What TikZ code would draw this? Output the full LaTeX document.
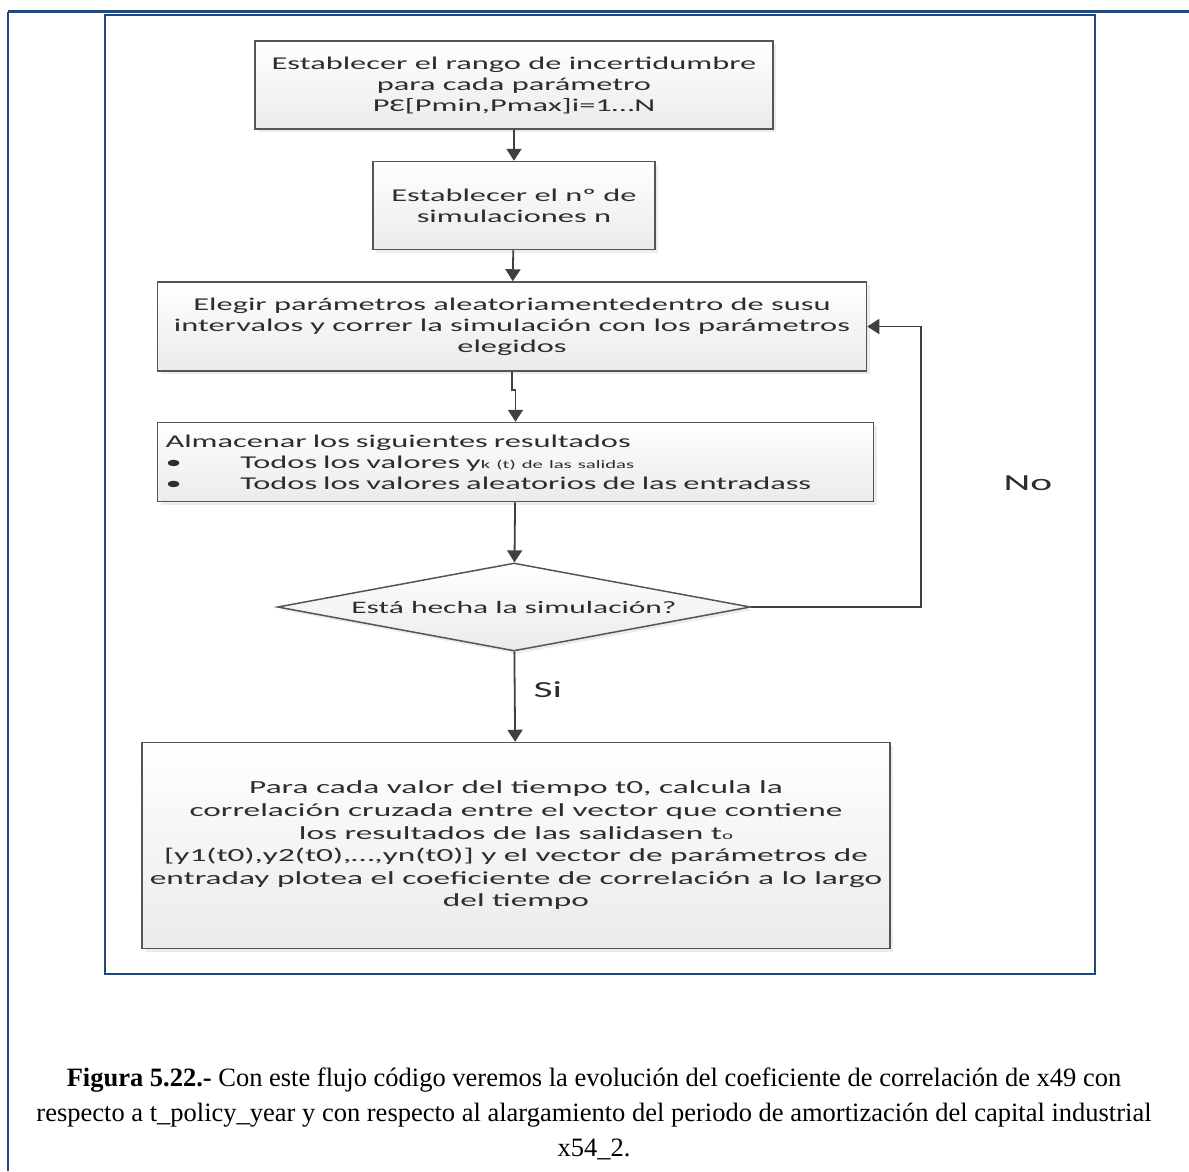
\documentclass[tikz,border=0pt]{standalone}
\usepackage{fontspec}
\setmainfont{Liberation Serif}
\newfontfamily\flowfont[FakeStretch=1.8]{Carlito}
\usepackage{tikz}
\usetikzlibrary{positioning,shapes.geometric,arrows.meta,shadows}
\definecolor{frameblue}{RGB}{31,73,125}
\definecolor{boxline}{RGB}{85,85,85}
\definecolor{flowline}{RGB}{64,64,64}
\definecolor{boxtext}{RGB}{45,45,45}
\tikzset{
  flowbox/.style={draw=boxline,line width=1.5pt,top color=white,bottom color=black!8,
    drop shadow={shadow xshift=3pt,shadow yshift=-3pt,opacity=0.15},
    align=center,inner sep=4pt,text=boxtext,font=\flowfont\fontsize{18}{21}\selectfont},
  decision/.style={flowbox,diamond,shape aspect=5.4,inner sep=0pt,font=\flowfont\fontsize{17.5}{20}\selectfont},
  flowarrow/.style={draw=flowline,line width=1.8pt,-{Triangle[length=12pt,width=15pt]}},
  flowlabel/.style={font=\flowfont\fontsize{23}{26}\selectfont,text=boxtext},
}
\newcommand{\smallsub}[1]{{\fontsize{11.5}{13}\selectfont #1}}

\begin{document}
\begin{tikzpicture}[x=1pt,y=-1pt,node distance=31pt]
  \useasboundingbox (0,0) rectangle (1189,1171);
  % page frame and figure box
  \draw[frameblue,line width=3pt] (8,11.5) -- (1189,11.5);
  \draw[frameblue,line width=2pt] (8,11.5) -- (8,1171);
  \draw[frameblue,line width=1.8pt] (105,15) rectangle (1095,974);

  \node[flowbox,minimum width=518pt,minimum height=88pt] (rango) at (514,85)
    {Establecer el rango de incertidumbre\\para cada parámetro\\PƐ[Pmin,Pmax]i=1…N};
  \node[flowbox,minimum width=282pt,minimum height=88pt,below=of rango] (nsim)
    {Establecer el nº de\\simulaciones n};
  \node[flowbox,minimum width=709pt,minimum height=89pt,below=of nsim,xshift=-2pt] (elegir)
    {Elegir parámetros aleatoriamentedentro de susu\\intervalos y correr la simulación con los parámetros\\elegidos};
  \node[flowbox,text width=700pt,align=left,inner xsep=8pt,minimum height=79pt,below=50pt of elegir,xshift=3.5pt] (almac)
    {Almacenar los siguientes resultados\\
     \makebox[75pt][l]{•}Todos los valores y\smallsub{k (t) de las salidas}\\
     \makebox[75pt][l]{•}Todos los valores aleatorios de las entradass};
  \node[decision,minimum width=473pt,minimum height=88pt,below=60pt of almac,xshift=-1.5pt] (hecha)
    {Está hecha la simulación?};
  \node[flowbox,minimum width=748pt,minimum height=206pt,below=90pt of hecha,xshift=2pt,
    font=\flowfont\fontsize{18.5}{22.6}\selectfont] (corr)
    {Para cada valor del tiempo t0, calcula la\\
     correlación cruzada entre el vector que contiene\\
     los resultados de las salidasen t\smallsub{o}\\
     {[}y1(t0),y2(t0),…,yn(t0)] y el vector de parámetros de\\
     entraday plotea el coeficiente de correlación a lo largo\\
     del tiempo};

  \draw[flowarrow] (rango) -- (nsim);
  \draw[flowarrow] (nsim) -- (elegir);
  \draw[flowarrow] (elegir.south) -- ++(0,18) -| (almac.north);
  \draw[flowarrow] (almac) -- (hecha);
  \draw[flowarrow] (hecha.east) -- ++(170,0) |- (elegir.east);
  \draw[flowarrow] (hecha) -- (corr);
  \node[flowlabel] (no) at (1028,483) {No};
  \node[flowlabel] (si) at (548,690) {Si};

  \node[font=\fontsize{26.5}{35}\selectfont,align=center] (caption) at (594,1114)
    {\textbf{Figura 5.22.-} Con este flujo código veremos la evolución del coeficiente de correlación de x49 con\\
     respecto a t\_policy\_year y con respecto al alargamiento del periodo de amortización del capital industrial\\
     x54\_2.};
\end{tikzpicture}
\end{document}
